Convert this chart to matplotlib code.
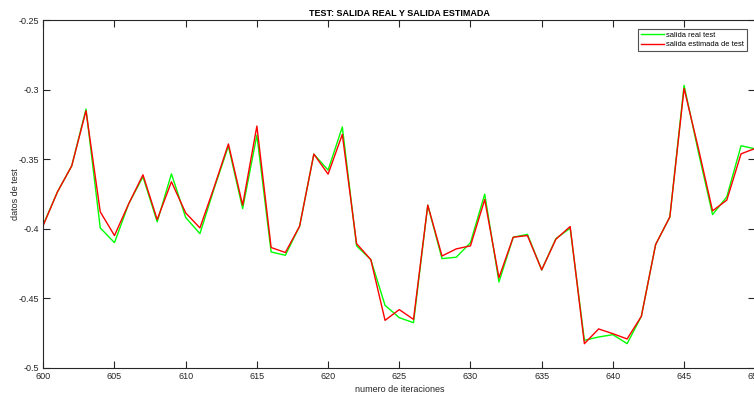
import numpy as np
import matplotlib.pyplot as plt
from matplotlib.ticker import FuncFormatter

plt.rcParams['font.family'] = ['Liberation Sans', 'DejaVu Sans']

# valores
iteraciones = list(range(600, 651))
salida_real = [-0.397, -0.3734, -0.3547, -0.3139, -0.3994, -0.410, -0.382, -0.3626, -0.395, -0.3605,
               -0.3919, -0.4035, -0.371, -0.3405, -0.3855, -0.3326, -0.4167, -0.4191, -0.3982, -0.3463,
               -0.3578, -0.3268, -0.4123, -0.4222, -0.4551, -0.464, -0.4676, -0.383, -0.4215, -0.4205,
               -0.41, -0.3751, -0.4383, -0.4061, -0.404, -0.4296, -0.4071, -0.3996, -0.4803, -0.4779,
               -0.4762, -0.4827, -0.463, -0.4114, -0.3915, -0.2968, -0.3446, -0.3898, -0.377, -0.3403,
               -0.3425]
salida_estimada = [-0.3975, -0.3734, -0.3547, -0.3151, -0.3878, -0.4049, -0.382, -0.3612, -0.3934, -0.3662,
                   -0.3886, -0.3994, -0.370, -0.339, -0.383, -0.3261, -0.4135, -0.4171, -0.3982, -0.3463,
                   -0.3607, -0.3321, -0.4107, -0.4222, -0.4659, -0.4582, -0.4652, -0.383, -0.4196, -0.4145,
                   -0.4123, -0.379, -0.4352, -0.4061, -0.4049, -0.4296, -0.4075, -0.3984, -0.4827, -0.4721,
                   -0.4755, -0.4793, -0.463, -0.4114, -0.3915, -0.299, -0.342, -0.3871, -0.3794, -0.3461,
                   -0.3422]
xticks = list(range(600, 651, 5))
yticks = [-0.5, -0.45, -0.4, -0.35, -0.3, -0.25]

fig = plt.figure(figsize=(7.54, 3.98), dpi=100)
ax = fig.add_axes([0.0574, 0.0761, 0.9443, 0.8729])

ax.plot(iteraciones, salida_real, color=(0, 1, 0), lw=1.0, label='salida real test')
ax.plot(iteraciones, salida_estimada, color=(1, 0, 0), lw=1.0, label='salida estimada de test')

ax.set_xlim(600, 650)
ax.set_ylim(-0.5, -0.25)
ax.set_xticks(xticks)
ax.set_yticks(yticks)
ax.yaxis.set_major_formatter(FuncFormatter(lambda v, p: '%g' % v))
ax.tick_params(direction='in', length=5, width=0.8, top=True, right=True,
               labelsize=6.5, colors='#262626', pad=3)
for s in ax.spines.values():
    s.set_linewidth(0.8)
    s.set_color('#262626')

ax.set_title('TEST: SALIDA REAL Y SALIDA ESTIMADA', fontsize=6.5, fontweight='bold', pad=3)
ax.set_xlabel('numero de iteraciones', fontsize=6.5, color='#262626', labelpad=3)
ax.set_ylabel('datos de test', fontsize=6.5, color='#262626', labelpad=-1)

leg = ax.legend(loc='upper right', fontsize=5.4, frameon=True, fancybox=False, handlelength=3.0,
                borderpad=0.4, labelspacing=0.3, handletextpad=0.35, borderaxespad=1.1)
leg.get_frame().set_edgecolor('#262626')
leg.get_frame().set_linewidth(0.8)

fig.savefig('out.png', dpi=100)
